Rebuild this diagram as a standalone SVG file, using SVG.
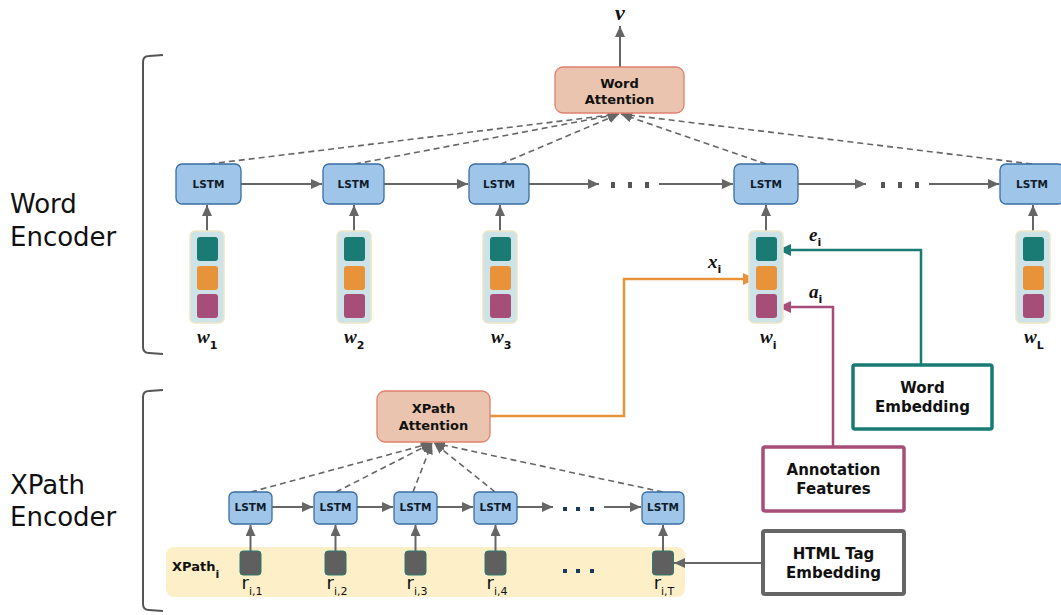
<svg xmlns="http://www.w3.org/2000/svg" width="1061" height="615" viewBox="0 0 1061 615">
<style>
.lbl{font-family:"DejaVu Sans",Verdana,sans-serif;font-weight:bold;fill:#111;text-anchor:middle}
.lstm{fill:#9fc5e8;stroke:#3a6ea5;stroke-width:1.3}
.lstmt{font-family:"DejaVu Sans",Verdana,sans-serif;font-weight:bold;font-size:10.5px;fill:#101c2c;text-anchor:middle}
.att{fill:#eac4ae;stroke:#e0806e;stroke-width:1.3}
.vec{fill:#cde3e8;stroke:#efe6c6;stroke-width:1.5}
.sq1{fill:#1a7a74}.sq2{fill:#e8923a}.sq3{fill:#a64d78}
.ar{stroke:#666;stroke-width:2;fill:none}
.da{stroke:#666;stroke-width:1.6;fill:none;stroke-dasharray:6 4}
.rsq{fill:#5f5f5f;stroke:#2a7a70;stroke-width:1}
.big{font-family:"DejaVu Sans",Verdana,sans-serif;font-size:26px;fill:#111}
.w{font-family:"Liberation Serif","Times New Roman",serif;font-style:italic;font-weight:bold;font-size:19px;fill:#111}
.sub{font-family:"DejaVu Sans",Verdana,sans-serif;font-style:normal;font-weight:bold;font-size:11px}
.r{font-family:"DejaVu Sans",Verdana,sans-serif;font-size:18px;fill:#111;text-anchor:middle}
.rs{font-size:11px}
</style>
<defs>
<marker id="ag" markerUnits="userSpaceOnUse" markerWidth="12" markerHeight="10" refX="11" refY="5" orient="auto"><path d="M0,0 L11,5 L0,10 z" fill="#666"/></marker>
<marker id="ao" markerUnits="userSpaceOnUse" markerWidth="14" markerHeight="12" refX="13" refY="6" orient="auto"><path d="M0,0 L13,6 L0,12 z" fill="#e8923a"/></marker>
<marker id="at" markerUnits="userSpaceOnUse" markerWidth="14" markerHeight="12" refX="13" refY="6" orient="auto"><path d="M0,0 L13,6 L0,12 z" fill="#1a7a74"/></marker>
<marker id="ap" markerUnits="userSpaceOnUse" markerWidth="14" markerHeight="12" refX="13" refY="6" orient="auto"><path d="M0,0 L13,6 L0,12 z" fill="#a64d78"/></marker>
</defs>
<rect width="1061" height="615" fill="#fff"/>

<!-- brackets and encoder labels -->
<g id="brackets" fill="none" stroke="#555" stroke-width="2">
<path d="M163,55 L149,56 Q143,56 143,62 L143,347 Q143,353 149,353 L163,354"/>
<path d="M163,390 L149,391 Q143,391 143,397 L143,604 Q143,610 149,610 L163,611"/>
</g>
<g id="word-encoder-label"><text class="big" x="10" y="213">Word</text><text class="big" x="10" y="246">Encoder</text></g>
<g id="xpath-encoder-label"><text class="big" x="10" y="494">XPath</text><text class="big" x="10" y="526">Encoder</text></g>

<g id="xpath-bar"><rect x="166" y="547" width="519" height="50" rx="8" fill="#fdf0c8"/><text x="172" y="571" font-family="DejaVu Sans,Verdana,sans-serif" font-weight="bold" font-size="13" fill="#111">XPath<tspan font-size="11" dy="7">i</tspan></text></g>

<!-- connectors -->
<g id="connectors">
<line class="ar" x1="620" y1="67" x2="620" y2="26" marker-end="url(#ag)"/>
<line class="ar" x1="241" y1="184" x2="322" y2="184" marker-end="url(#ag)"/>
<line class="ar" x1="384" y1="184" x2="468" y2="184" marker-end="url(#ag)"/>
<line class="ar" x1="529" y1="184" x2="599" y2="184" marker-end="url(#ag)"/>
<line class="ar" x1="659" y1="184" x2="733" y2="184" marker-end="url(#ag)"/>
<line class="ar" x1="798" y1="184" x2="866" y2="184" marker-end="url(#ag)"/>
<line class="ar" x1="929" y1="184" x2="999" y2="184" marker-end="url(#ag)"/>
<line class="ar" x1="207" y1="231" x2="207" y2="205" marker-end="url(#ag)"/>
<line class="ar" x1="354" y1="231" x2="354" y2="205" marker-end="url(#ag)"/>
<line class="ar" x1="500" y1="231" x2="500" y2="205" marker-end="url(#ag)"/>
<line class="ar" x1="766" y1="231" x2="766" y2="205" marker-end="url(#ag)"/>
<line class="ar" x1="1033" y1="231" x2="1033" y2="205" marker-end="url(#ag)"/>
<line class="da" x1="209" y1="164" x2="619" y2="114" marker-end="url(#ag)"/>
<line class="da" x1="355" y1="164" x2="619" y2="114" marker-end="url(#ag)"/>
<line class="da" x1="501" y1="164" x2="619" y2="114" marker-end="url(#ag)"/>
<line class="da" x1="766" y1="164" x2="621" y2="114" marker-end="url(#ag)"/>
<line class="da" x1="1032" y1="164" x2="621" y2="114" marker-end="url(#ag)"/>
<line class="ar" x1="272" y1="507" x2="313" y2="507" marker-end="url(#ag)"/>
<line class="ar" x1="357" y1="507" x2="393" y2="507" marker-end="url(#ag)"/>
<line class="ar" x1="437" y1="507" x2="473" y2="507" marker-end="url(#ag)"/>
<line class="ar" x1="517" y1="507" x2="553" y2="507" marker-end="url(#ag)"/>
<line class="ar" x1="604" y1="507" x2="641" y2="507" marker-end="url(#ag)"/>
<line class="ar" x1="250.5" y1="551" x2="250.5" y2="525" marker-end="url(#ag)"/>
<line class="ar" x1="335.5" y1="551" x2="335.5" y2="525" marker-end="url(#ag)"/>
<line class="ar" x1="415.5" y1="551" x2="415.5" y2="525" marker-end="url(#ag)"/>
<line class="ar" x1="495.5" y1="551" x2="495.5" y2="525" marker-end="url(#ag)"/>
<line class="ar" x1="663" y1="551" x2="663" y2="525" marker-end="url(#ag)"/>
<line class="da" x1="251" y1="492" x2="432" y2="443" marker-end="url(#ag)"/>
<line class="da" x1="336" y1="492" x2="432" y2="443" marker-end="url(#ag)"/>
<line class="da" x1="413" y1="492" x2="432" y2="443" marker-end="url(#ag)"/>
<line class="da" x1="495" y1="492" x2="434" y2="443" marker-end="url(#ag)"/>
<line class="da" x1="663" y1="492" x2="434" y2="443" marker-end="url(#ag)"/>
<polyline points="490,416 624,416 624,279 756,279" fill="none" stroke="#e8923a" stroke-width="2.5" marker-end="url(#ao)"/>
<polyline points="921,365 921,250 778,250" fill="none" stroke="#1a7a74" stroke-width="2.5" marker-end="url(#at)"/>
<polyline points="833,447 833,307 778,307" fill="none" stroke="#a64d78" stroke-width="2.5" marker-end="url(#ap)"/>
<line class="ar" x1="763" y1="563" x2="674" y2="563" marker-end="url(#ag)"/>
</g>

<g id="dots-top" fill="#555">
<rect x="611" y="182" width="4" height="6"/><rect x="628" y="182" width="4" height="6"/><rect x="645" y="182" width="4" height="6"/>
<rect x="881" y="182" width="4" height="6"/><rect x="898" y="182" width="4" height="6"/><rect x="915" y="182" width="4" height="6"/>
</g>
<g id="dots-xpath" fill="#1a3a5c">
<rect x="563" y="507" width="4" height="4"/><rect x="576" y="507" width="4" height="4"/><rect x="590" y="507" width="4" height="4"/>
<rect x="563" y="569" width="4" height="4"/><rect x="576" y="569" width="4" height="4"/><rect x="590" y="569" width="4" height="4"/>
</g>

<text id="v-label" x="620" y="20" text-anchor="middle" font-family="Liberation Serif,'Times New Roman',serif" font-style="italic" font-weight="bold" font-size="22" fill="#111">v</text>

<g id="word-attention"><rect class="att" x="555" y="67" width="129" height="46" rx="8"/><text class="lbl" font-size="13" x="619.5" y="88">Word</text><text class="lbl" font-size="13" x="619.5" y="104">Attention</text></g>

<g id="lstm-w1"><rect class="lstm" x="176" y="164" width="65" height="40" rx="6"/><text class="lstmt" x="208.5" y="188">LSTM</text></g>
<g id="lstm-w2"><rect class="lstm" x="323" y="164" width="61" height="40" rx="6"/><text class="lstmt" x="353.5" y="188">LSTM</text></g>
<g id="lstm-w3"><rect class="lstm" x="469" y="164" width="60" height="40" rx="6"/><text class="lstmt" x="499" y="188">LSTM</text></g>
<g id="lstm-wi"><rect class="lstm" x="734" y="164" width="64" height="40" rx="6"/><text class="lstmt" x="766" y="188">LSTM</text></g>
<g id="lstm-wL"><rect class="lstm" x="1000" y="164" width="64" height="40" rx="6"/><text class="lstmt" x="1032" y="188">LSTM</text></g>

<g id="vec-w1"><rect class="vec" x="190" y="231" width="34" height="92" rx="5"/><rect class="sq1" x="197" y="237" width="21" height="24" rx="3"/><rect class="sq2" x="197" y="266" width="21" height="24" rx="3"/><rect class="sq3" x="197" y="294" width="21" height="24" rx="3"/><text class="w" x="197" y="343">w<tspan class="sub" dy="6">1</tspan></text></g>
<g id="vec-w2"><rect class="vec" x="337" y="231" width="34" height="92" rx="5"/><rect class="sq1" x="344" y="237" width="21" height="24" rx="3"/><rect class="sq2" x="344" y="266" width="21" height="24" rx="3"/><rect class="sq3" x="344" y="294" width="21" height="24" rx="3"/><text class="w" x="344" y="343">w<tspan class="sub" dy="6">2</tspan></text></g>
<g id="vec-w3"><rect class="vec" x="483" y="231" width="34" height="92" rx="5"/><rect class="sq1" x="490" y="237" width="21" height="24" rx="3"/><rect class="sq2" x="490" y="266" width="21" height="24" rx="3"/><rect class="sq3" x="490" y="294" width="21" height="24" rx="3"/><text class="w" x="491" y="343">w<tspan class="sub" dy="6">3</tspan></text></g>
<g id="vec-wi"><rect class="vec" x="749" y="231" width="34" height="92" rx="5"/><rect class="sq1" x="756" y="237" width="21" height="24" rx="3"/><rect class="sq2" x="756" y="266" width="21" height="24" rx="3"/><rect class="sq3" x="756" y="294" width="21" height="24" rx="3"/><text class="w" x="760" y="343">w<tspan class="sub" dy="6">i</tspan></text></g>
<g id="vec-wL"><rect class="vec" x="1016" y="231" width="34" height="92" rx="5"/><rect class="sq1" x="1023" y="237" width="21" height="24" rx="3"/><rect class="sq2" x="1023" y="266" width="21" height="24" rx="3"/><rect class="sq3" x="1023" y="294" width="21" height="24" rx="3"/><text class="w" x="1024" y="343">w<tspan class="sub" dy="6">L</tspan></text></g>

<text class="w" x="708" y="268">x<tspan class="sub" dy="5">i</tspan></text>
<text class="w" x="809" y="241">e<tspan class="sub" dy="5">i</tspan></text>
<text class="w" x="809" y="298">a<tspan class="sub" dy="5">i</tspan></text>

<g id="word-embedding"><rect x="853" y="365" width="139" height="64" fill="#fff" stroke="#1a7a74" stroke-width="3.5" rx="2"/><text class="lbl" font-size="15" x="922.5" y="393">Word</text><text class="lbl" font-size="15" x="922.5" y="412">Embedding</text></g>
<g id="annotation-features"><rect x="763" y="447" width="141" height="64" fill="#fff" stroke="#a64d78" stroke-width="3.5" rx="2"/><text class="lbl" font-size="15" x="833.5" y="475">Annotation</text><text class="lbl" font-size="15" x="833.5" y="494">Features</text></g>
<g id="html-tag-embedding"><rect x="763" y="531" width="141" height="63" fill="#fff" stroke="#666" stroke-width="4" rx="2"/><text class="lbl" font-size="15" x="833.5" y="559">HTML Tag</text><text class="lbl" font-size="15" x="833.5" y="578">Embedding</text></g>

<g id="xpath-attention"><rect class="att" x="377" y="391" width="113" height="51" rx="8"/><text class="lbl" font-size="13" x="433.5" y="413">XPath</text><text class="lbl" font-size="13" x="433.5" y="430">Attention</text></g>

<g id="lstm-x1"><rect class="lstm" x="229" y="492" width="43" height="32" rx="5"/><text class="lstmt" x="250.5" y="511">LSTM</text></g>
<g id="lstm-x2"><rect class="lstm" x="314" y="492" width="43" height="32" rx="5"/><text class="lstmt" x="335.5" y="511">LSTM</text></g>
<g id="lstm-x3"><rect class="lstm" x="394" y="492" width="43" height="32" rx="5"/><text class="lstmt" x="415.5" y="511">LSTM</text></g>
<g id="lstm-x4"><rect class="lstm" x="474" y="492" width="43" height="32" rx="5"/><text class="lstmt" x="495.5" y="511">LSTM</text></g>
<g id="lstm-xT"><rect class="lstm" x="642" y="492" width="42" height="32" rx="5"/><text class="lstmt" x="663" y="511">LSTM</text></g>

<g id="r1"><rect class="rsq" x="240" y="551" width="21" height="24" rx="3"/><text class="r" x="252" y="589">r<tspan class="rs" dy="6">i,1</tspan></text></g>
<g id="r2"><rect class="rsq" x="325" y="551" width="21" height="24" rx="3"/><text class="r" x="337" y="589">r<tspan class="rs" dy="6">i,2</tspan></text></g>
<g id="r3"><rect class="rsq" x="405" y="551" width="21" height="24" rx="3"/><text class="r" x="417" y="589">r<tspan class="rs" dy="6">i,3</tspan></text></g>
<g id="r4"><rect class="rsq" x="485" y="551" width="21" height="24" rx="3"/><text class="r" x="497" y="589">r<tspan class="rs" dy="6">i,4</tspan></text></g>
<g id="rT"><rect class="rsq" x="652.5" y="551" width="21" height="24" rx="3"/><text class="r" x="664" y="589">r<tspan class="rs" dy="6">i,T</tspan></text></g>
</svg>
